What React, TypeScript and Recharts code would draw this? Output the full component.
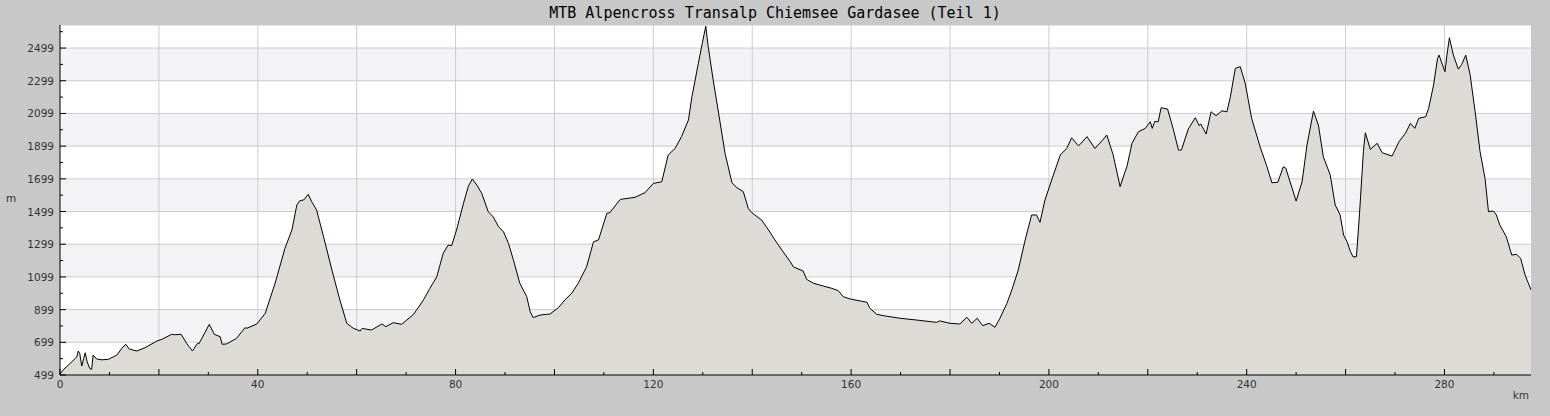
import { AreaChart, Area, XAxis, YAxis, CartesianGrid } from 'recharts';

const title = 'MTB Alpencross Transalp Chiemsee Gardasee (Teil 1)';

// profile: distance (km) and elevation (m)
const distanceKm = [
  0, 0.8, 1.7, 2.6, 3.4, 3.7, 4.0, 4.4, 4.8, 5.1, 5.5, 6.0, 6.4, 6.7, 7.4, 8.5, 9.8, 11.5, 12.5, 13.3,
  14.0, 15.5, 17.2, 19.6, 20.6, 22.6, 23.3, 24.5, 25.6, 26.8, 27.8, 28.1, 29.3, 30.2, 31.2, 32.4, 32.8, 33.7, 35.7, 37.4,
  37.8, 39.8, 41.5, 43.5, 45.5, 46.9, 47.9, 48.5, 49.3, 50.2, 50.9, 51.9, 53.3, 55.0, 56.6, 58.0, 59.3, 60.7, 61.1, 63.0,
  65.1, 65.9, 67.4, 69.1, 71.5, 73.5, 74.8, 76.2, 77.5, 78.5, 79.2, 80.2, 81.6, 82.6, 83.4, 84.3, 85.3, 86.6, 87.6, 88.7,
  89.7, 90.7, 91.7, 93.0, 94.4, 95.1, 95.7, 97.1, 98.4, 99.1, 100.8, 102.1, 103.5, 104.8, 106.5, 107.9, 108.9, 110.6, 111.2, 113.3,
  116.3, 118.3, 120.0, 121.7, 123.0, 124.4, 125.7, 127.1, 127.8, 129.1, 129.9, 130.6, 131.1, 132.1, 133.2, 134.5, 135.9, 136.9, 138.2, 139.2,
  139.9, 141.9, 143.3, 144.6, 146.0, 147.7, 148.3, 150.3, 151.0, 152.4, 154.4, 156.1, 157.4, 158.4, 159.8, 163.2, 163.8, 165.2, 166.9, 169.9,
  173.3, 177.3, 177.9, 180.0, 182.0, 183.4, 184.4, 185.5, 186.6, 187.9, 189.1, 190.1, 191.5, 192.5, 193.8, 195.2, 196.5, 197.5, 198.2, 199.2,
  200.9, 202.3, 203.6, 204.6, 206.0, 207.7, 209.3, 210.7, 211.7, 213.0, 214.4, 215.4, 215.8, 216.8, 218.1, 219.5, 220.5, 220.9, 221.4, 222.1,
  222.7, 224.0, 225.2, 226.2, 226.8, 228.2, 229.6, 230.4, 230.7, 231.8, 232.8, 233.8, 235.0, 236.0, 236.7, 237.7, 238.7, 239.7, 241.0, 242.7,
  244.1, 245.1, 246.3, 247.4, 247.9, 250.0, 251.2, 252.2, 253.5, 254.5, 255.5, 256.9, 257.9, 258.9, 259.6, 260.3, 261.0, 261.5, 262.2, 262.8,
  263.6, 264.0, 265.0, 266.4, 267.4, 269.4, 270.8, 272.1, 273.1, 274.0, 274.8, 276.2, 276.8, 277.8, 278.6, 278.9, 280.1, 280.5, 281.0, 281.8,
  282.8, 283.5, 284.3, 285.2, 286.2, 287.2, 288.2, 288.9, 289.9, 290.5, 291.2, 292.5, 293.6, 294.6, 295.4, 296.3, 297.5,
];

const elevationM = [
  505, 535, 560, 585, 611, 646, 630, 554, 600, 635, 580, 540, 534, 621, 597, 592, 595, 621, 662, 687,
  658, 646, 666, 707, 717, 748, 745, 748, 693, 646, 693, 690, 758, 809, 748, 733, 687, 689, 723, 788,
  785, 811, 876, 1060, 1274, 1386, 1539, 1565, 1570, 1604, 1559, 1508, 1345, 1141, 958, 815, 785, 768, 784, 774,
  811, 795, 819, 809, 870, 958, 1029, 1100, 1243, 1294, 1290, 1386, 1549, 1655, 1698, 1661, 1610, 1498, 1467, 1406,
  1375, 1304, 1202, 1060, 978, 886, 850, 866, 870, 872, 911, 958, 999, 1060, 1161, 1314, 1325, 1488, 1492, 1573,
  1586, 1614, 1671, 1681, 1845, 1885, 1957, 2059, 2201, 2405, 2528, 2633, 2507, 2303, 2100, 1855, 1675, 1645, 1620, 1518,
  1492, 1447, 1386, 1325, 1263, 1192, 1161, 1135, 1084, 1060, 1043, 1029, 1015, 978, 964, 944, 907, 870, 860, 846,
  835, 821, 830, 815, 811, 852, 815, 846, 801, 815, 791, 846, 937, 1019, 1141, 1325, 1478, 1478, 1433, 1569,
  1722, 1845, 1885, 1950, 1900, 1957, 1885, 1930, 1967, 1845, 1651, 1742, 1776, 1916, 1987, 2008, 2048, 2008, 2050, 2048,
  2134, 2126, 1997, 1875, 1875, 2004, 2073, 2024, 2035, 1973, 2109, 2085, 2115, 2109, 2201, 2375, 2385, 2283, 2069, 1896,
  1773, 1675, 1678, 1773, 1765, 1563, 1681, 1906, 2113, 2028, 1834, 1722, 1539, 1478, 1355, 1314, 1253, 1222, 1222, 1478,
  1865, 1981, 1879, 1916, 1859, 1838, 1926, 1977, 2038, 2008, 2069, 2079, 2130, 2273, 2436, 2456, 2354, 2456, 2562, 2456,
  2370, 2399, 2456, 2334, 2109, 1865, 1702, 1498, 1502, 1478, 1416, 1345, 1233, 1237, 1213, 1111, 1020,
];

const xDomain = [0, 297.5];
const yDomain = [499, 2640];
const xTicks = [0, 10, 20, 30, 40, 50, 60, 70, 80, 90, 100, 110, 120, 130, 140, 150, 160, 170, 180, 190, 200, 210, 220, 230, 240, 250, 260, 270, 280, 290];
const xGrid = [20, 40, 60, 80, 100, 120, 140, 160, 180, 200, 220, 240, 260, 280];
const yTicks = [499, 599, 699, 799, 899, 999, 1099, 1199, 1299, 1399, 1499, 1599, 1699, 1799, 1899, 1999, 2099, 2199, 2299, 2399, 2499, 2599];
const yGrid = [2640, 2499, 2299, 2099, 1899, 1699, 1499, 1299, 1099, 899, 699, 499];

const data = distanceKm.map((km, i) => ({ km, m: elevationM[i] }));

const labelFont = '"DejaVu Sans", sans-serif';
const MARGIN = 5;

function XTick(props: any) {
  const { x, y, payload } = props;
  const v = payload.value;
  const axisY = y - MARGIN;
  const len = v % 20 === 0 ? 6 : 3;
  return (
    <g>
      <line x1={x} x2={x} y1={axisY} y2={axisY - len} stroke="#000" />
      {v % 40 === 0 && (
        <text x={x} y={axisY + 9} textAnchor="middle" dominantBaseline="central" fontSize={10.5} fontFamily={labelFont} fill="#333">
          {v}
        </text>
      )}
    </g>
  );
}

function YTick(props: any) {
  const { x, y, payload } = props;
  const v = payload.value;
  const axisX = x + MARGIN;
  const major = (v - 499) % 200 === 0;
  return (
    <g>
      <line x1={axisX} x2={axisX + (major ? 6 : 3)} y1={y} y2={y} stroke="#000" />
      {major && (
        <text x={axisX - 6} y={y} textAnchor="end" dominantBaseline="central" fontSize={10.5} fontFamily={labelFont} fill="#333">
          {v}
        </text>
      )}
    </g>
  );
}

export default function App() {
  return (
    <div style={{ position: 'absolute', left: 0, top: 0, width: 1550, height: 416, background: '#c8c8c8' }}>
      <div
        style={{
          position: 'absolute', left: 0, top: 6, width: 1550, textAlign: 'center',
          fontFamily: '"DejaVu Sans Mono", monospace', fontSize: 15, lineHeight: '15px', color: '#000',
        }}
      >
        {title}
      </div>
      <AreaChart width={1550} height={416} data={data} margin={{ top: 25, right: 19, bottom: 0, left: 0 }}>
        <CartesianGrid
          stroke="#cccccc"
          horizontalValues={yGrid}
          verticalValues={xGrid}
          horizontalFill={['#ffffff', '#f3f2f5']}
          fillOpacity={1}
        />
        <XAxis
          type="number"
          dataKey="km"
          domain={xDomain}
          ticks={xTicks}
          interval={0}
          allowDataOverflow
          height={41}
          tickSize={0}
          tickMargin={MARGIN}
          tick={XTick}
          axisLine={{ stroke: '#000' }}
        />
        <YAxis
          type="number"
          domain={yDomain}
          ticks={yTicks}
          interval={0}
          allowDataOverflow
          width={60}
          tickSize={0}
          tickMargin={MARGIN}
          tick={YTick}
          axisLine={{ stroke: '#000' }}
        />
        <Area
          type="linear"
          dataKey="m"
          stroke="#000"
          strokeWidth={1}
          fill="#dcdbd5"
          fillOpacity={1}
          baseValue={yDomain[0]}
          dot={false}
          activeDot={false}
          isAnimationActive={false}
        />
      </AreaChart>
      <div style={{ position: 'absolute', left: 1480, top: 389, width: 49, textAlign: 'right', fontFamily: labelFont, fontSize: 10.5, lineHeight: '12px', color: '#333' }}>
        km
      </div>
      <div style={{ position: 'absolute', left: 4, top: 192, width: 14, textAlign: 'center', fontFamily: labelFont, fontSize: 10.5, lineHeight: '12px', color: '#333' }}>
        m
      </div>
    </div>
  );
}
